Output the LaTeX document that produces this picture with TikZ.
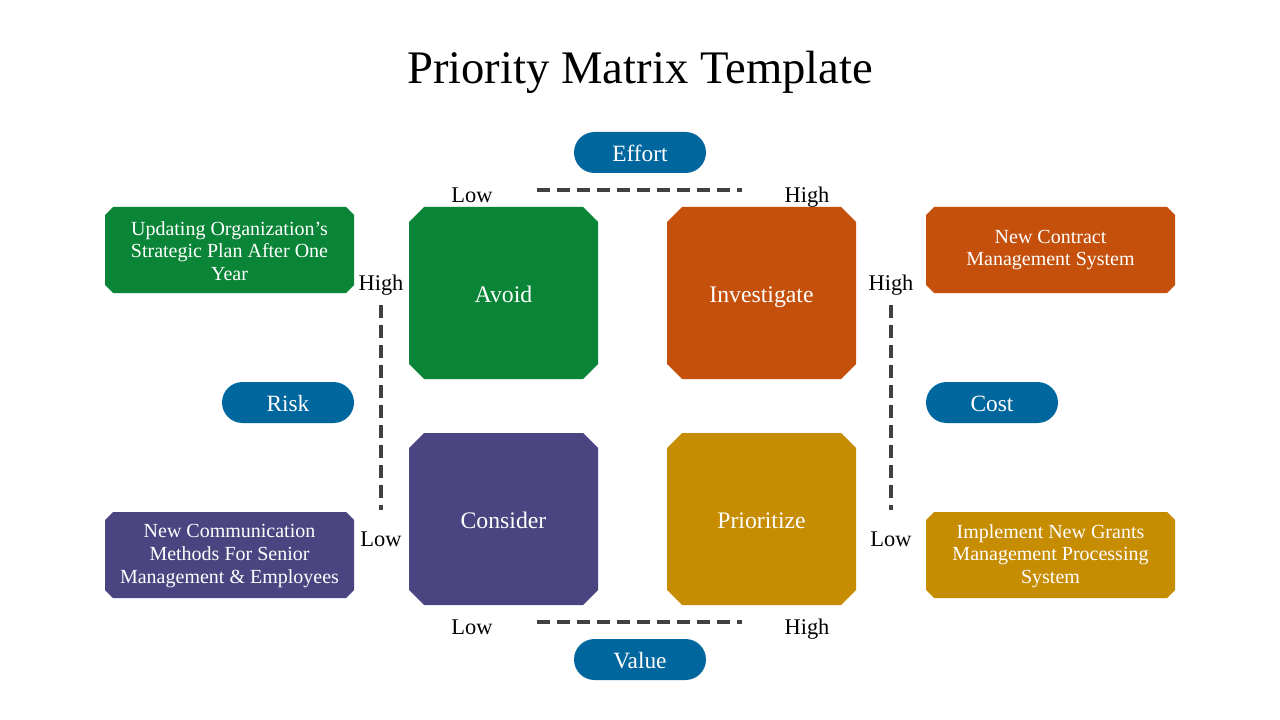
\documentclass[tikz,border=0pt]{standalone}
\usepackage{fontspec}
\setmainfont{Liberation Serif}
\definecolor{cgreen}{HTML}{0A8537}
\definecolor{corange}{HTML}{C4500C}
\definecolor{cpurple}{HTML}{4A4580}
\definecolor{cgold}{HTML}{C68C02}
\definecolor{cblue}{HTML}{00669E}
\definecolor{cdash}{HTML}{404040}
\usetikzlibrary{shapes.misc}
% chamfered fill: colour, x1, y1, x2, y2, cut
\newcommand{\chamfill}[6]{%
  \fill[#1] (#2+#6,#3) -- (#4-#6,#3) -- (#4,#3+#6) -- (#4,#5-#6) -- (#4-#6,#5) -- (#2+#6,#5) -- (#2,#5-#6) -- (#2,#3+#6) -- cycle;}
\begin{document}
\begin{tikzpicture}[x=0.75pt,y=-0.75pt,
  qtext/.style={text=white, font=\fontsize{17.8}{21}\selectfont, inner sep=0pt, text height=12pt, text depth=3.5pt},
  btext/.style={text=white, align=center, font=\fontsize{15}{17}\selectfont, inner sep=0pt},
  pilltext/.style={text=white, font=\fontsize{17.5}{20}\selectfont, inner sep=0pt, text height=12pt, text depth=3.5pt},
  pill/.style={rounded rectangle, fill=cblue, inner sep=0pt, minimum width=99pt, minimum height=30.75pt},
  lbl/.style={font=\fontsize{16.8}{19}\selectfont, inner sep=0pt, text height=11.5pt, text depth=3.5pt},
  dline/.style={draw=cdash, line width=2.3pt, dash pattern=on 9.5pt off 5.5pt}]
\useasboundingbox (0,0) rectangle (1280,720);
\fill[white] (0,0) rectangle (1280,720);
\node[font=\fontsize{35}{40}\selectfont, inner sep=0pt] (title) at (640,72) {Priority Matrix Template};
% quadrants
\chamfill{cgreen}{409}{207}{598}{379}{15}
\chamfill{corange}{667}{207}{856}{379}{15}
\chamfill{cpurple}{409}{433}{598}{605}{15}
\chamfill{cgold}{667}{433}{856}{605}{15}
\node[qtext] (avoid) at (503.5,297) {Avoid};
\node[qtext] (invest) at (761.5,297) {Investigate};
\node[qtext] (consider) at (503.5,523) {Consider};
\node[qtext] (prior) at (761.5,523) {Prioritize};
% text boxes
\chamfill{cgreen}{105}{207}{354}{293}{8}
\chamfill{cpurple}{105}{512}{354}{598}{8}
\chamfill{corange}{926}{207}{1175}{293}{8}
\chamfill{cgold}{926}{512}{1175}{598}{8}
\node[btext] (b1) at (229.5,251) {Updating Organization’s\\Strategic Plan After One\\Year};
\node[btext] (b2) at (229.5,556) {New Communication\\Methods For Senior\\Management \& Employees};
\node[btext] (b3) at (1050.5,250) {New Contract\\Management System};
\node[btext] (b4) at (1050.5,556) {Implement New Grants\\Management Processing\\System};
% pills
\node[pill] (effort) at (640,152.5) {};
\node[pill] (value) at (640,659.5) {};
\node[pill] (risk) at (288,402.5) {};
\node[pill] (cost) at (992,402.5) {};
\node[pilltext] (efforttxt) at ([yshift=-2.3pt]effort.center) {Effort};
\node[pilltext] (valuetxt) at ([yshift=-2.3pt]value.center) {Value};
\node[pilltext] (risktxt) at ([yshift=-2.3pt]risk.center) {Risk};
\node[pilltext] (costtxt) at ([yshift=-2.3pt]cost.center) {Cost};
% labels
\node[lbl] (tlow) at (472,197) {Low};
\node[lbl] (thigh) at (807,197) {High};
\node[lbl] (blow) at (472,629) {Low};
\node[lbl] (bhigh) at (807,629) {High};
\node[lbl] (lhigh) at (381,285) {High};
\node[lbl] (llow) at (381,541) {Low};
\node[lbl] (rhigh) at (891,285) {High};
\node[lbl] (rlow) at (891,541) {Low};
% dashed axes
\coordinate (t1) at (537,190); \coordinate (t2) at (742,190);
\coordinate (b1c) at (537,622); \coordinate (b2c) at (742,622);
\coordinate (l1) at (381,305); \coordinate (l2) at (381,510);
\coordinate (r1) at (891,305); \coordinate (r2) at (891,510);
\draw[dline] (t1) -- (t2);
\draw[dline] (b1c) -- (b2c);
\draw[dline] (l1) -- (l2);
\draw[dline] (r1) -- (r2);
\end{tikzpicture}
\end{document}
